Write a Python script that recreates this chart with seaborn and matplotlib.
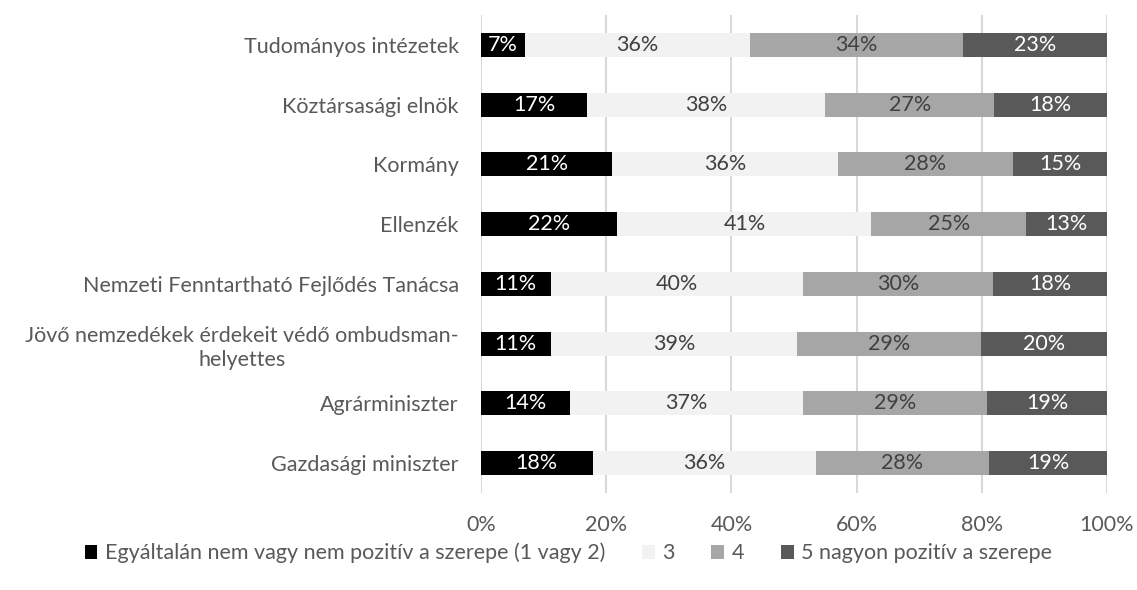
import matplotlib
matplotlib.use("Agg")
import matplotlib.pyplot as plt
import seaborn as sns
import pandas as pd
import numpy as np
from matplotlib.patches import Patch

categories = [
    "Tudományos intézetek",
    "Köztársasági elnök",
    "Kormány",
    "Ellenzék",
    "Nemzeti Fenntartható Fejlődés Tanácsa",
    "Jövő nemzedékek érdekeit védő ombudsman-\nhelyettes",
    "Agrárminiszter",
    "Gazdasági miniszter",
]
s_low = [7, 17, 21, 22, 11, 11, 14, 18]
s_3 = [36, 38, 36, 41, 40, 39, 37, 36]
s_4 = [34, 27, 28, 25, 30, 29, 29, 28]
s_5 = [23, 18, 15, 13, 18, 20, 19, 19]
series_names = ["Egyáltalán nem vagy nem pozitív a szerepe (1 vagy 2)", "3", "4", "5 nagyon pozitív a szerepe"]
x_ticks = [0, 20, 40, 60, 80, 100]
x_ticklabels = ["0%", "20%", "40%", "60%", "80%", "100%"]

colors = ["#000000", "#f2f2f2", "#a6a6a6", "#595959"]
label_colors = ["#ffffff", "#404040", "#404040", "#ffffff"]

sns.set_style("white")
plt.rcParams["font.family"] = ["Lato", "DejaVu Sans"]
FS = 15.5

vals = np.array([s_low, s_3, s_4, s_5], dtype=float)
totals = vals.sum(axis=0)
shares = vals / totals * 100
cum = np.cumsum(shares, axis=0)

fig = plt.figure(figsize=(11.37, 5.90), dpi=100)
ax = fig.add_axes([481 / 1137, 1 - 493 / 590, (1107 - 481) / 1137, (493 - 15) / 590])

# draw cumulative totals from the largest to the smallest so they stack visually
for i in range(3, -1, -1):
    df = pd.DataFrame({"cat": categories, "val": cum[i]})
    sns.barplot(data=df, x="val", y="cat", orient="h", color=colors[i],
                saturation=1, width=0.4, ax=ax, linewidth=0, zorder=2)

for i in range(4):
    for j, cat in enumerate(categories):
        start = cum[i][j] - shares[i][j]
        center = start + shares[i][j] / 2
        ax.text(center, j, f"{int(vals[i][j])}%", ha="center", va="center",
                color=label_colors[i], fontsize=FS, zorder=5)

ax.set_xlim(0, 100)
ax.set_ylim(7.5, -0.5)
ax.set_xticks(x_ticks)
ax.set_xticklabels(x_ticklabels)
ax.set_xlabel("")
ax.set_ylabel("")
ax.grid(axis="x", color="#d9d9d9", linewidth=1.5, zorder=0)
ax.grid(axis="y", visible=False)
ax.set_axisbelow(True)
for sp in ax.spines.values():
    sp.set_visible(False)
ax.tick_params(axis="both", length=0, labelsize=FS, labelcolor="#595959")
ax.tick_params(axis="x", pad=16)
ax.tick_params(axis="y", pad=16)
for lbl in ax.get_yticklabels():
    lbl.set_multialignment("center")
    lbl.set_linespacing(1.25)

handles = [Patch(facecolor=c, edgecolor="none") for c in colors]
fig.legend(handles, series_names, loc="center", bbox_to_anchor=(0.5, 1 - 553 / 590),
           ncol=4, frameon=False, fontsize=FS, handlelength=0.6, handleheight=0.6,
           handletextpad=0.35, columnspacing=1.7, labelcolor="#595959")

fig.savefig("out.png", dpi=100)
